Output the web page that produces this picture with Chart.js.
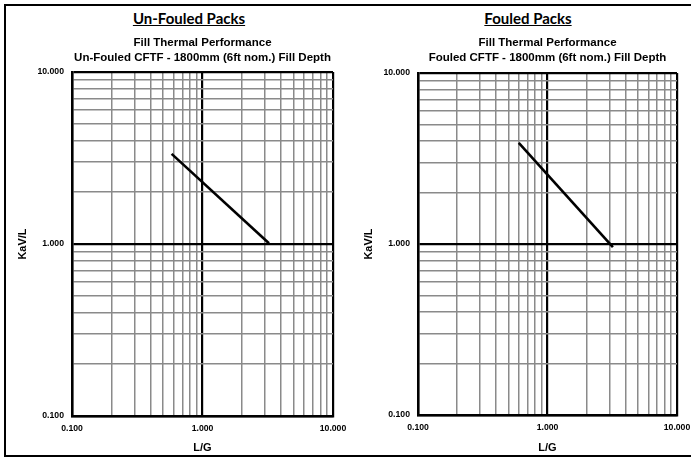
<!DOCTYPE html>
<html>
<head>
<meta charset="utf-8">
<script src="https://cdn.jsdelivr.net/npm/chart.js@4.4.1/dist/chart.umd.min.js"></script>
<style>
  body { margin: 0; background: #fff; width: 691px; height: 457px; overflow: hidden; position: relative; }
  .frame { position: absolute; left: 4px; top: 4px; width: 800px; height: 453px; box-sizing: border-box;
    border-top: 2px solid #000; border-left: 2px solid #000; border-bottom: 2px solid #000; }
  .heading { position: absolute; top: 9px; width: 200px; text-align: center; font-family: Lato, sans-serif;
    font-weight: bold; font-size: 15px; text-decoration: underline; color: #000; }
  canvas { position: absolute; top: 0; }
</style>
</head>
<body>
<div class="frame"></div>
<div class="heading" style="left:89px">Un-Fouled Packs</div>
<div class="heading" style="left:428px">Fouled Packs</div>
<canvas id="unfouled" width="340" height="457" style="left:6px"></canvas>
<canvas id="fouled" width="339" height="457" style="left:352px"></canvas>
<script>
// log axis decades and the minor lines between them
const decades = [0.1, 1, 10]
const minorSteps = [2, 3, 4, 5, 6, 7, 8, 9]

// fill line end points (L/G, KaV/L)
const unfouledLG = [0.58, 3.23]
const unfouledKaVL = [3.34, 1.01]
const fouledLG = [0.60, 3.2]
const fouledKaVL = [3.9, 0.96]

const unfouledTitle = ["Fill Thermal Performance", "Un-Fouled CFTF - 1800mm (6ft nom.) Fill Depth"]
const fouledTitle = ["Fill Thermal Performance", "Fouled CFTF - 1800mm (6ft nom.) Fill Depth"]

const gridValues = []
decades.forEach((d, i) => {
  gridValues.push(d)
  if (i < decades.length - 1) minorSteps.forEach(s => gridValues.push(+(d * s).toFixed(3)))
})

const isDecade = v => decades.some(d => Math.abs(d - v) < 1e-9)

const tickFont = { family: "'Liberation Sans', Arial, sans-serif", weight: 'bold', size: 8.7 }
const titleFont = { family: "'Liberation Sans', Arial, sans-serif", weight: 'bold', size: 11 }
const subSize = 11.5
const subLine = 15

const logAxis = (title, horizontal, size, titlePad) => ({
  type: 'logarithmic',
  min: decades[0],
  max: decades[decades.length - 1],
  afterBuildTicks: scale => {
    scale.ticks = gridValues.map(v => ({ value: v }))
  },
  afterFit: scale => {
    if (horizontal) scale.height = size
    else scale.width = size
    scale.paddingLeft = 0
    scale.paddingRight = 0
    scale.paddingTop = 0
    scale.paddingBottom = 0
  },
  ticks: {
    autoSkip: false,
    maxRotation: 0,
    padding: horizontal ? 7 : 8,
    color: '#000',
    font: tickFont,
    callback: v => isDecade(v) ? v.toFixed(3) : ''
  },
  grid: {
    drawTicks: false,
    color: ctx => isDecade(ctx.tick.value) ? '#000' : '#8a8a8a',
    lineWidth: ctx => isDecade(ctx.tick.value) ? 2.2 : 1.5
  },
  border: { color: '#000', width: 2.5 },
  title: { display: true, text: title, color: '#000', font: titleFont, padding: titlePad }
})

function makeChart(id, lg, kavl, titleLines, plotTop, rightPad, xHeight){
  const points = lg.map((x, i) => ({ x: x, y: kavl[i] }))
  const topPad = 43 - subLine / 2
  return new Chart(document.getElementById(id), {
    type: 'scatter',
    data: {
      datasets: [{
        data: points,
        showLine: true,
        borderColor: '#000',
        borderWidth: 2.6,
        pointRadius: 0
      }]
    },
    options: {
      responsive: false,
      animation: false,
      layout: { padding: { left: 0, top: 0, right: rightPad, bottom: 0 } },
      plugins: {
        legend: { display: false },
        tooltip: { enabled: false },
        title: {
          display: true,
          fullSize: false,
          text: titleLines,
          color: '#000',
          font: { family: "'Liberation Sans', Arial, sans-serif", weight: 'bold', size: subSize, lineHeight: subLine / subSize },
          padding: { top: topPad, bottom: plotTop - topPad - 2 * subLine }
        }
      },
      scales: {
        x: logAxis('L/G', true, xHeight, { top: 0, bottom: 2 }),
        y: logAxis('KaV/L', false, 66, { top: 10, bottom: 0 })
      }
    }
  })
}

makeChart('unfouled', unfouledLG, unfouledKaVL, unfouledTitle, 72, 13, 41)
makeChart('fouled', fouledLG, fouledKaVL, fouledTitle, 73, 14, 42)
</script>
</body>
</html>
